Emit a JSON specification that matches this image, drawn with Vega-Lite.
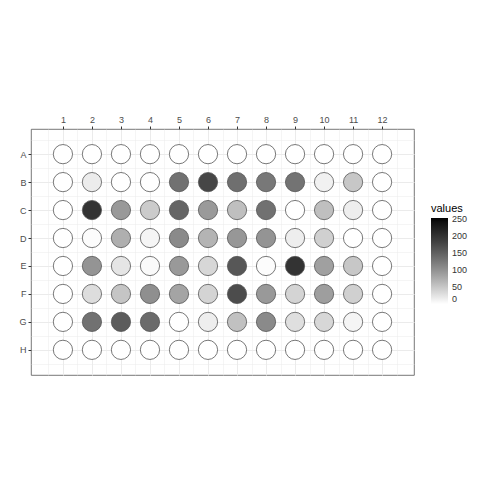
{
  "$schema": "https://vega.github.io/schema/vega-lite/v6.json",
  "width": 383,
  "height": 246,
  "autosize": {"type": "none"},
  "padding": {"left": 31, "top": 129, "right": 66, "bottom": 105},
  "background": "white",
  "config": {
    "font": "Liberation Sans",
    "view": {"stroke": "#555555", "strokeWidth": 0.8}
  },
  "data": {
    "values": [
      {"row": 1, "col": 1, "values": 0}, {"row": 1, "col": 2, "values": 0}, {"row": 1, "col": 3, "values": 0}, {"row": 1, "col": 4, "values": 0}, {"row": 1, "col": 5, "values": 0}, {"row": 1, "col": 6, "values": 0}, {"row": 1, "col": 7, "values": 0}, {"row": 1, "col": 8, "values": 0}, {"row": 1, "col": 9, "values": 0}, {"row": 1, "col": 10, "values": 0}, {"row": 1, "col": 11, "values": 0}, {"row": 1, "col": 12, "values": 0},
      {"row": 2, "col": 1, "values": 0}, {"row": 2, "col": 2, "values": 17}, {"row": 2, "col": 3, "values": 0}, {"row": 2, "col": 4, "values": 0}, {"row": 2, "col": 5, "values": 132}, {"row": 2, "col": 6, "values": 177}, {"row": 2, "col": 7, "values": 134}, {"row": 2, "col": 8, "values": 125}, {"row": 2, "col": 9, "values": 130}, {"row": 2, "col": 10, "values": 12}, {"row": 2, "col": 11, "values": 50}, {"row": 2, "col": 12, "values": 0},
      {"row": 3, "col": 1, "values": 0}, {"row": 3, "col": 2, "values": 199}, {"row": 3, "col": 3, "values": 93}, {"row": 3, "col": 4, "values": 46}, {"row": 3, "col": 5, "values": 144}, {"row": 3, "col": 6, "values": 92}, {"row": 3, "col": 7, "values": 57}, {"row": 3, "col": 8, "values": 132}, {"row": 3, "col": 9, "values": 0}, {"row": 3, "col": 10, "values": 57}, {"row": 3, "col": 11, "values": 15}, {"row": 3, "col": 12, "values": 0},
      {"row": 4, "col": 1, "values": 0}, {"row": 4, "col": 2, "values": 3}, {"row": 4, "col": 3, "values": 72}, {"row": 4, "col": 4, "values": 9}, {"row": 4, "col": 5, "values": 107}, {"row": 4, "col": 6, "values": 67}, {"row": 4, "col": 7, "values": 95}, {"row": 4, "col": 8, "values": 97}, {"row": 4, "col": 9, "values": 15}, {"row": 4, "col": 10, "values": 42}, {"row": 4, "col": 11, "values": 0}, {"row": 4, "col": 12, "values": 0},
      {"row": 5, "col": 1, "values": 0}, {"row": 5, "col": 2, "values": 97}, {"row": 5, "col": 3, "values": 23}, {"row": 5, "col": 4, "values": 4}, {"row": 5, "col": 5, "values": 93}, {"row": 5, "col": 6, "values": 35}, {"row": 5, "col": 7, "values": 159}, {"row": 5, "col": 8, "values": 3}, {"row": 5, "col": 9, "values": 199}, {"row": 5, "col": 10, "values": 86}, {"row": 5, "col": 11, "values": 50}, {"row": 5, "col": 12, "values": 0},
      {"row": 6, "col": 1, "values": 0}, {"row": 6, "col": 2, "values": 30}, {"row": 6, "col": 3, "values": 52}, {"row": 6, "col": 4, "values": 102}, {"row": 6, "col": 5, "values": 82}, {"row": 6, "col": 6, "values": 38}, {"row": 6, "col": 7, "values": 171}, {"row": 6, "col": 8, "values": 93}, {"row": 6, "col": 9, "values": 38}, {"row": 6, "col": 10, "values": 88}, {"row": 6, "col": 11, "values": 42}, {"row": 6, "col": 12, "values": 0},
      {"row": 7, "col": 1, "values": 0}, {"row": 7, "col": 2, "values": 132}, {"row": 7, "col": 3, "values": 154}, {"row": 7, "col": 4, "values": 138}, {"row": 7, "col": 5, "values": 0}, {"row": 7, "col": 6, "values": 15}, {"row": 7, "col": 7, "values": 55}, {"row": 7, "col": 8, "values": 107}, {"row": 7, "col": 9, "values": 28}, {"row": 7, "col": 10, "values": 35}, {"row": 7, "col": 11, "values": 9}, {"row": 7, "col": 12, "values": 0},
      {"row": 8, "col": 1, "values": 0}, {"row": 8, "col": 2, "values": 0}, {"row": 8, "col": 3, "values": 0}, {"row": 8, "col": 4, "values": 0}, {"row": 8, "col": 5, "values": 0}, {"row": 8, "col": 6, "values": 0}, {"row": 8, "col": 7, "values": 0}, {"row": 8, "col": 8, "values": 0}, {"row": 8, "col": 9, "values": 0}, {"row": 8, "col": 10, "values": 0}, {"row": 8, "col": 11, "values": 0}, {"row": 8, "col": 12, "values": 0}
    ]
  },
  "mark": {"type": "circle", "opacity": 1, "stroke": "#555555", "strokeWidth": 0.8, "size": 370},
  "encoding": {
    "x": {
      "field": "col",
      "type": "quantitative",
      "scale": {"domain": [-0.1, 13.1], "nice": false, "zero": false},
      "axis": {
        "orient": "top",
        "title": null,
        "domain": false,
        "values": [0.5, 1, 1.5, 2, 2.5, 3, 3.5, 4, 4.5, 5, 5.5, 6, 6.5, 7, 7.5, 8, 8.5, 9, 9.5, 10, 10.5, 11, 11.5, 12, 12.5],
        "labelExpr": "datum.value % 1 === 0 ? '' + datum.value : ''",
        "labelOverlap": false,
        "labelFlush": false,
        "labelFontSize": 9,
        "labelColor": "#4d4d4d",
        "labelPadding": 2,
        "tickColor": "#333333",
        "tickSize": 3,
        "tickOpacity": {"condition": {"test": "datum.value % 1 !== 0", "value": 0}, "value": 1},
        "gridColor": "#ebebeb",
        "gridWidth": {"condition": {"test": "datum.value % 1 !== 0", "value": 0.5}, "value": 1}
      }
    },
    "y": {
      "field": "row",
      "type": "quantitative",
      "scale": {"domain": [0.1, 8.9], "reverse": true, "nice": false, "zero": false},
      "axis": {
        "title": null,
        "domain": false,
        "values": [0.5, 1, 1.5, 2, 2.5, 3, 3.5, 4, 4.5, 5, 5.5, 6, 6.5, 7, 7.5, 8, 8.5],
        "labelExpr": "datum.value % 1 === 0 ? ['', 'A', 'B', 'C', 'D', 'E', 'F', 'G', 'H'][datum.value] : ''",
        "labelOverlap": false,
        "labelFlush": false,
        "labelFontSize": 9,
        "labelColor": "#4d4d4d",
        "labelPadding": 2,
        "tickColor": "#333333",
        "tickSize": 3,
        "tickOpacity": {"condition": {"test": "datum.value % 1 !== 0", "value": 0}, "value": 1},
        "gridColor": "#ebebeb",
        "gridWidth": {"condition": {"test": "datum.value % 1 !== 0", "value": 0.5}, "value": 1}
      }
    },
    "fill": {
      "field": "values",
      "type": "quantitative",
      "scale": {"domain": [0, 252], "range": ["#ffffff", "#000000"], "interpolate": "lab"},
      "legend": {
        "title": "values",
        "orient": "none",
        "legendX": 400,
        "legendY": 74,
        "direction": "vertical",
        "gradientLength": 86,
        "gradientThickness": 17,
        "gradientStrokeWidth": 0,
        "values": [0, 50, 100, 150, 200, 250],
        "titleFontSize": 11,
        "titleFontWeight": "normal",
        "titleColor": "#000000",
        "titlePadding": 4,
        "labelFontSize": 9,
        "labelColor": "#333333",
        "labelOffset": 4,
        "labelFlush": false,
        "labelBaseline": "middle",
        "labelOverlap": false
      }
    }
  }
}
